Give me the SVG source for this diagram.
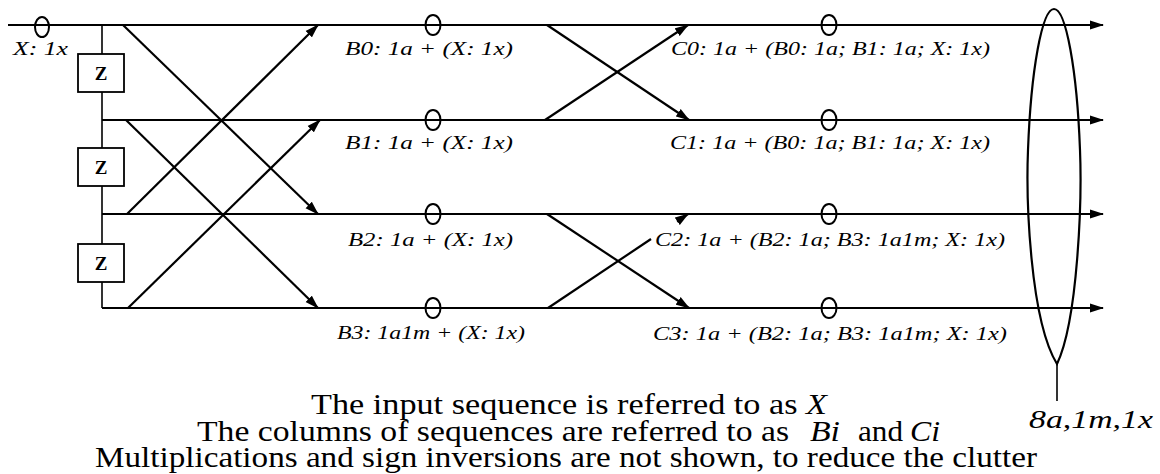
<svg xmlns="http://www.w3.org/2000/svg" width="1160" height="474" viewBox="0 0 1160 474">
<style>
.ln{stroke:#000;stroke-width:2.2;fill:none}
.th{stroke:#000;stroke-width:1.6;fill:none}
.ring{stroke:#000;stroke-width:2;fill:none}
.box{stroke:#000;stroke-width:1.8;fill:#fff}
.lab{font-family:"Liberation Serif","Times New Roman",serif;font-style:italic;font-size:19px;fill:#000}
.z{font-family:"Liberation Serif","Times New Roman",serif;font-weight:bold;font-size:19px;fill:#000}
.cap{font-family:"Liberation Serif","Times New Roman",serif;font-size:29px;fill:#000}
.tot{font-family:"Liberation Serif","Times New Roman",serif;font-style:italic;font-size:25px;fill:#000}
.it{font-style:italic}
</style>
<defs>
<marker id="ah" markerUnits="userSpaceOnUse" markerWidth="14" markerHeight="10" refX="13" refY="5" orient="auto">
<path d="M0,0.5 L14,5 L0,9.5 Z" fill="#000"/>
</marker>
</defs>
<rect width="1160" height="474" fill="#fff"/>

<g id="connectors">
<line class="ln" x1="8" y1="25" x2="1103" y2="25" marker-end="url(#ah)"/>
<line class="ln" x1="102" y1="120" x2="1103" y2="120" marker-end="url(#ah)"/>
<line class="ln" x1="102" y1="214" x2="1103" y2="214" marker-end="url(#ah)"/>
<line class="ln" x1="102" y1="308" x2="1103" y2="308" marker-end="url(#ah)"/>
<line class="th" x1="102" y1="25" x2="102" y2="308"/>
<line class="ln" x1="123" y1="25" x2="318" y2="214" marker-end="url(#ah)"/>
<line class="ln" x1="126" y1="120" x2="318" y2="308" marker-end="url(#ah)"/>
<line class="ln" x1="127" y1="214" x2="318" y2="25" marker-end="url(#ah)"/>
<line class="ln" x1="128" y1="308" x2="320" y2="120" marker-end="url(#ah)"/>
<line class="ln" x1="547" y1="25" x2="689" y2="120" marker-end="url(#ah)"/>
<line class="ln" x1="545" y1="120" x2="688" y2="25" marker-end="url(#ah)"/>
<line class="ln" x1="547" y1="214" x2="689" y2="308" marker-end="url(#ah)"/>
<line class="ln" x1="548" y1="308" x2="651" y2="239"/>
<line class="ln" x1="677" y1="221.5" x2="688" y2="214" marker-end="url(#ah)"/>
<path class="ln" d="M1057,364 C1030,320 1026,200 1028,150 C1031,70 1042,9 1054,9 C1066,9 1077,70 1080,150 C1082,200 1078,320 1057,364 Z"/>
<line class="th" x1="1057" y1="364" x2="1057" y2="401"/>
</g>

<g id="z1"><rect class="box" x="78" y="54" width="46" height="38"/><text class="z" x="101" y="80" text-anchor="middle">Z</text></g>
<g id="z2"><rect class="box" x="78" y="148" width="46" height="38"/><text class="z" x="101" y="174" text-anchor="middle">Z</text></g>
<g id="z3"><rect class="box" x="78" y="244" width="46" height="38"/><text class="z" x="101" y="270" text-anchor="middle">Z</text></g>

<g id="x-in"><ellipse class="ring" cx="42" cy="27" rx="7" ry="10"/><text class="lab" x="13" y="55" textLength="55" lengthAdjust="spacingAndGlyphs">X: 1x</text></g>

<g id="b0"><ellipse class="ring" cx="433" cy="25" rx="7.5" ry="10"/><text class="lab" x="345" y="55" textLength="168" lengthAdjust="spacingAndGlyphs">B0: 1a + (X: 1x)</text></g>
<g id="b1"><ellipse class="ring" cx="433" cy="120" rx="7.5" ry="10"/><text class="lab" x="345" y="149" textLength="168" lengthAdjust="spacingAndGlyphs">B1: 1a + (X: 1x)</text></g>
<g id="b2"><ellipse class="ring" cx="433" cy="214" rx="7.5" ry="10"/><text class="lab" x="348" y="246" textLength="165" lengthAdjust="spacingAndGlyphs">B2: 1a + (X: 1x)</text></g>
<g id="b3"><ellipse class="ring" cx="433" cy="308" rx="7.5" ry="10"/><text class="lab" x="337" y="339" textLength="188" lengthAdjust="spacingAndGlyphs">B3: 1a1m + (X: 1x)</text></g>

<g id="c0"><ellipse class="ring" cx="829" cy="25" rx="7.5" ry="10"/><text class="lab" x="671" y="55" textLength="319" lengthAdjust="spacingAndGlyphs">C0: 1a + (B0: 1a; B1: 1a; X: 1x)</text></g>
<g id="c1"><ellipse class="ring" cx="829" cy="120" rx="7.5" ry="10"/><text class="lab" x="670" y="149" textLength="320" lengthAdjust="spacingAndGlyphs">C1: 1a + (B0: 1a; B1: 1a; X: 1x)</text></g>
<g id="c2"><ellipse class="ring" cx="829" cy="214" rx="7.5" ry="10"/><text class="lab" x="655" y="246" textLength="350" lengthAdjust="spacingAndGlyphs">C2: 1a + (B2: 1a; B3: 1a1m; X: 1x)</text></g>
<g id="c3"><ellipse class="ring" cx="829" cy="308" rx="7.5" ry="10"/><text class="lab" x="653" y="340" textLength="354" lengthAdjust="spacingAndGlyphs">C3: 1a + (B2: 1a; B3: 1a1m; X: 1x)</text></g>

<g id="total"><text class="tot" x="1029" y="428" textLength="124" lengthAdjust="spacingAndGlyphs">8a,1m,1x</text></g>

<g id="caption">
<text class="cap" x="311" y="414" textLength="516" lengthAdjust="spacingAndGlyphs">The input sequence is referred to as <tspan class="it">X</tspan></text>
<text class="cap" x="197" y="441" textLength="592" lengthAdjust="spacingAndGlyphs">The columns of sequences are referred to as</text>
<text class="cap it" x="810" y="441" textLength="30" lengthAdjust="spacingAndGlyphs">Bi</text>
<text class="cap" x="858" y="441" textLength="45" lengthAdjust="spacingAndGlyphs">and</text>
<text class="cap it" x="910" y="441" textLength="30" lengthAdjust="spacingAndGlyphs">Ci</text>
<text class="cap" x="95" y="467" textLength="942" lengthAdjust="spacingAndGlyphs">Multiplications and sign inversions are not shown, to reduce the clutter</text>
</g>
</svg>
